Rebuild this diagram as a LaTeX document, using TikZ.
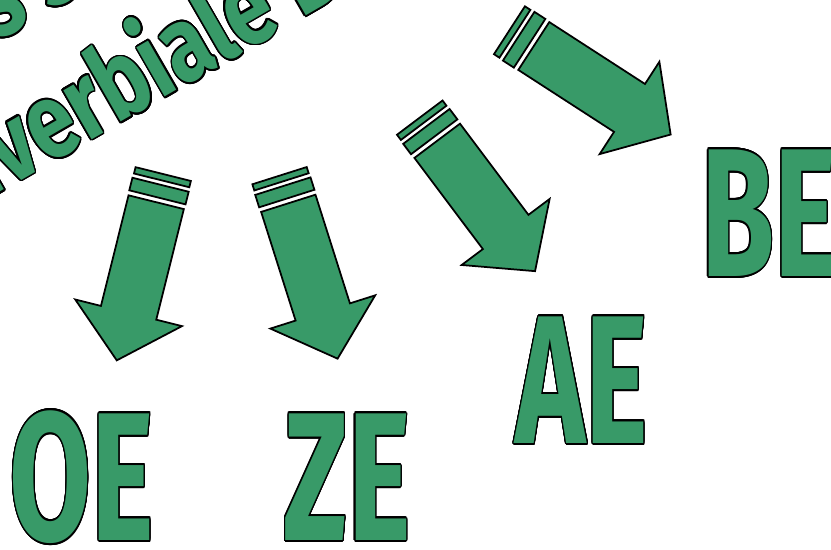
\documentclass[tikz,border=0pt]{standalone}
\usepackage{fontspec}
\setmainfont{Fira Sans}
\usepackage[copies]{contour}
\contourlength{1.5pt}
\contournumber{24}
\definecolor{leafgreen}{HTML}{389A68}

\begin{document}
\begin{tikzpicture}[x=0.03cm, y=-0.03cm,
    outlined/.style={draw=black, fill=leafgreen, line width=1.5pt, line join=miter},
    bigletters/.style={text=leafgreen, inner sep=0pt, xscale=0.65,
      font=\fontsize{156}{156}\selectfont\bfseries},
    headline/.style={text=leafgreen, inner sep=0pt, anchor=base west,
      rotate=30, xscale=0.8, font=\fontsize{91}{91}\selectfont\bfseries},
    greenarrow/.pic={
      % shaft and head
      \path[outlined] (0,-28.5) -- (114,-28.5) -- (114,-55) -- (163,0)
        -- (114,55) -- (114,28.5) -- (0,28.5) -- cycle;
      % two stripes at the tail
      \path[outlined] (-18,-29) rectangle (-5,29);
      \path[outlined] (-29,-28.5) rectangle (-22.5,28.5);
    },
  ]

  \useasboundingbox (0,0) rectangle (831,549);
  \clip (0,0) rectangle (831,549);

  % Title, slanted and cut by the frame
  \node[headline] (line1) at (-90,92) {\contour{black}{Das sind}};
  \node[headline] (line2) at (-79,238) {\contour{black}{Adverbiale Bestimmungen}};

  % Arrows
  \pic (arrowoe) [rotate=-104] at (156.2,202.2) {greenarrow};
  \pic (arrowze) [rotate=-72.4] at (288.3,203.3) {greenarrow};
  \pic (arrowae) [rotate=-53.1] at (437.2,140.8) {greenarrow};
  \pic (arrowbe) [rotate=-32.9] at (533.8,46) {greenarrow};

  % Letters
  \node[bigletters] (oe) at (82,478) {\contour{black}{OE}};
  \node[bigletters] (ze) at (347,478) {\contour{black}{ZE}};
  \node[bigletters] (ae) at (582,381) {\contour{black}{AE}};
  \node[bigletters] (be) at (769,214) {\contour{black}{BE}};

\end{tikzpicture}
\end{document}
